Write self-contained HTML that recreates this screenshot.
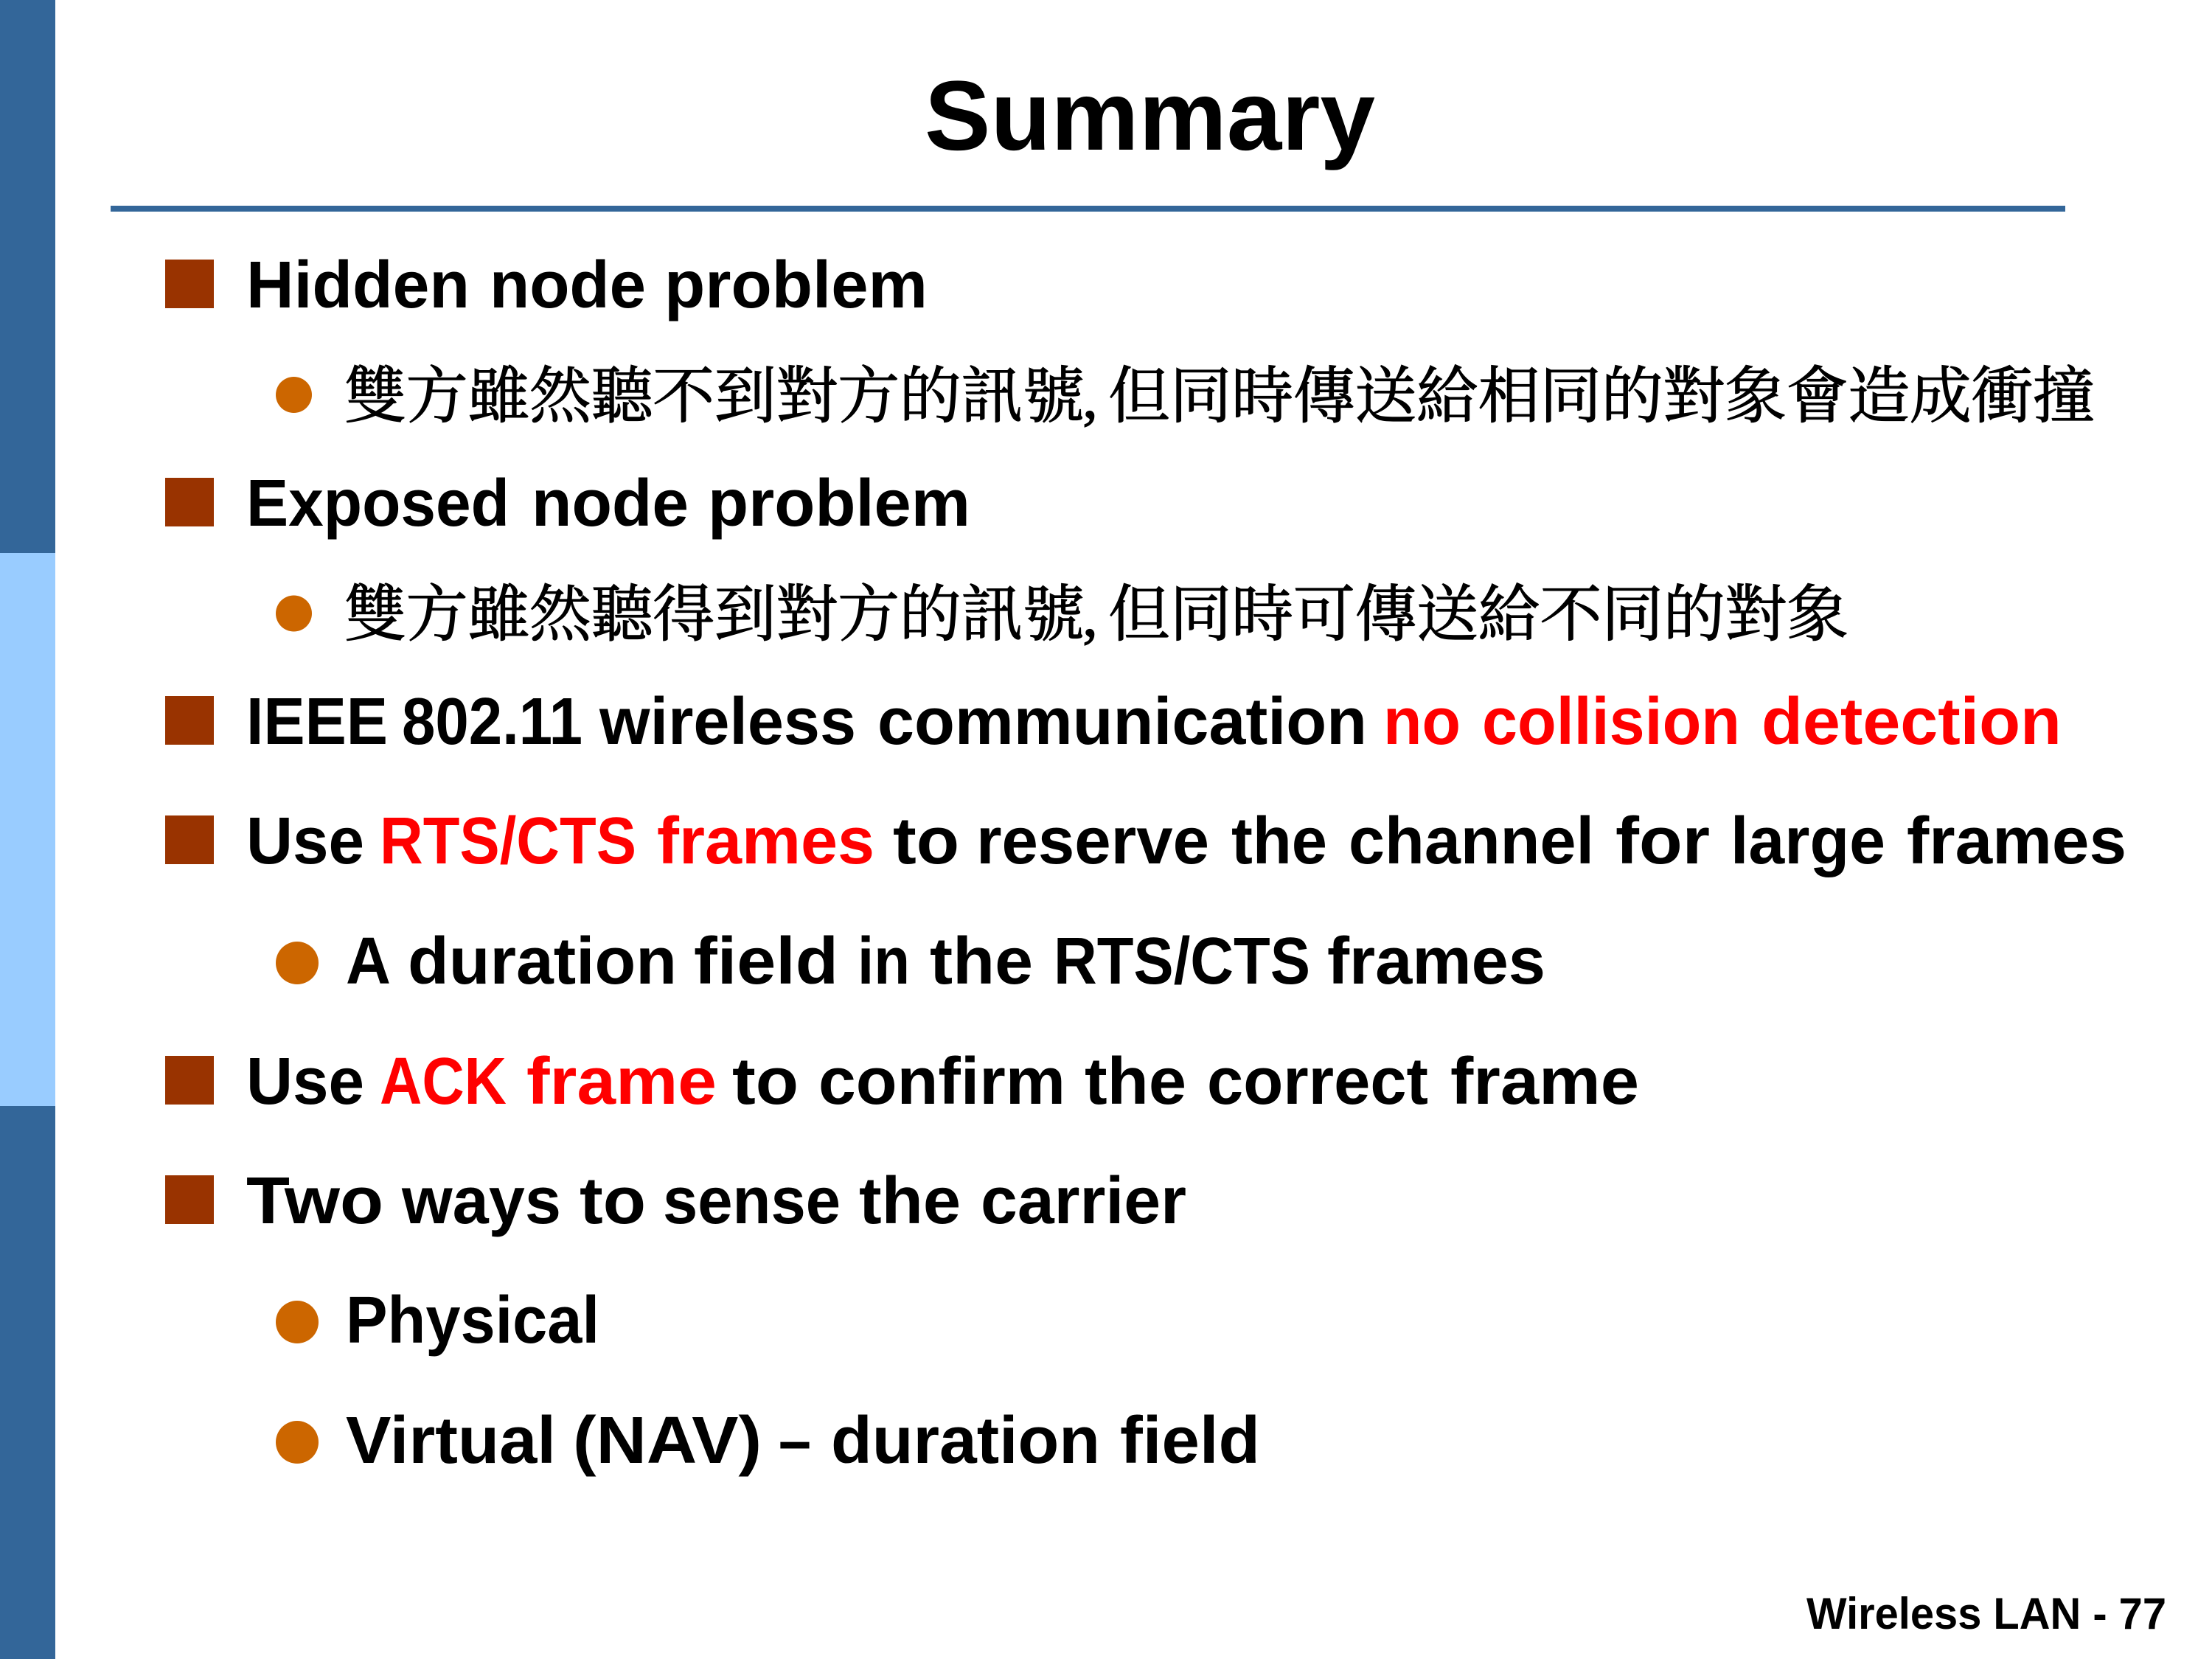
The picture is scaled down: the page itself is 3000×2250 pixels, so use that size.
<!DOCTYPE html>
<html>
<head>
<meta charset="utf-8">
<title>Summary</title>
<style>
html,body{margin:0;padding:0;background:#fff;width:3000px;height:2250px;overflow:hidden}
svg{display:block}
.t{font-family:"Liberation Sans",sans-serif;font-weight:700;font-size:90px;fill:#000}
.r{fill:#f00}
.c{font-family:"Liberation Serif","Noto Serif CJK SC","Noto Sans CJK TC",serif;font-size:84px;font-weight:400;fill:#000;stroke:#000;stroke-width:1.2px}
</style>
</head>
<body>
<svg xmlns="http://www.w3.org/2000/svg" width="3000" height="2250" viewBox="0 0 3000 2250">
<rect width="3000" height="2250" fill="#fff"/>
<rect x="0" y="0" width="75" height="750" fill="#336699"/>
<rect x="0" y="750" width="75" height="750" fill="#99CCFF"/>
<rect x="0" y="1500" width="75" height="750" fill="#336699"/>
<rect x="150" y="279" width="2651" height="8" fill="#336699"/>

<text class="t" x="1254" y="203" style="font-size:134px" textLength="611" lengthAdjust="spacingAndGlyphs">Summary</text>

<g fill="#993300">
<rect x="224" y="352" width="66" height="66"/>
<rect x="224" y="648" width="66" height="66"/>
<rect x="224" y="944" width="66" height="66"/>
<rect x="224" y="1106" width="66" height="66"/>
<rect x="224" y="1432" width="66" height="66"/>
<rect x="224" y="1594" width="66" height="66"/>
</g>
<g fill="#CC6600">
<ellipse cx="398.500" cy="535.500" rx="24.500" ry="24.500"/>
<ellipse cx="398.500" cy="832" rx="24.500" ry="24.500"/>
<circle cx="403" cy="1306" r="29"/>
<circle cx="403" cy="1793" r="29"/>
<circle cx="403" cy="1956" r="29"/>
</g>

<g>
<text class="t" x="334" y="417" textLength="303" lengthAdjust="spacingAndGlyphs">Hidden</text>
<text class="t" x="664" y="417" textLength="212" lengthAdjust="spacingAndGlyphs">node</text>
<text class="t" x="901" y="417" textLength="357" lengthAdjust="spacingAndGlyphs">problem</text>

<text class="c" x="467" y="566" textLength="1004" lengthAdjust="spacing">雙方雖然聽不到對方的訊號</text>
<text class="c" x="1468" y="566">,</text>
<text class="c" x="1503" y="566" textLength="1338" lengthAdjust="spacing">但同時傳送給相同的對象會造成衝撞</text>

<text class="t" x="334" y="713" textLength="357" lengthAdjust="spacingAndGlyphs">Exposed</text>
<text class="t" x="721" y="713" textLength="213" lengthAdjust="spacingAndGlyphs">node</text>
<text class="t" x="960" y="713" textLength="356" lengthAdjust="spacingAndGlyphs">problem</text>

<text class="c" x="467" y="862" textLength="1004" lengthAdjust="spacing">雙方雖然聽得到對方的訊號</text>
<text class="c" x="1468" y="862">,</text>
<text class="c" x="1503" y="862" textLength="1004" lengthAdjust="spacing">但同時可傳送給不同的對象</text>

<text class="t" x="334" y="1009" textLength="192" lengthAdjust="spacingAndGlyphs">IEEE</text>
<text class="t" x="545" y="1009" textLength="245" lengthAdjust="spacingAndGlyphs">802.11</text>
<text class="t" x="813" y="1009" textLength="348" lengthAdjust="spacingAndGlyphs">wireless</text>
<text class="t" x="1190" y="1009" textLength="664" lengthAdjust="spacingAndGlyphs">communication</text>
<text class="t r" x="1876" y="1009" textLength="105" lengthAdjust="spacingAndGlyphs">no</text>
<text class="t r" x="2010" y="1009" textLength="350" lengthAdjust="spacingAndGlyphs">collision</text>
<text class="t r" x="2389" y="1009" textLength="407" lengthAdjust="spacingAndGlyphs">detection</text>

<text class="t" x="334" y="1171" textLength="160" lengthAdjust="spacingAndGlyphs">Use</text>
<text class="t r" x="515" y="1171" textLength="348" lengthAdjust="spacingAndGlyphs">RTS/CTS</text>
<text class="t r" x="891" y="1171" textLength="295" lengthAdjust="spacingAndGlyphs">frames</text>
<text class="t" x="1211" y="1171" textLength="90" lengthAdjust="spacingAndGlyphs">to</text>
<text class="t" x="1324" y="1171" textLength="316" lengthAdjust="spacingAndGlyphs">reserve</text>
<text class="t" x="1670" y="1171" textLength="130" lengthAdjust="spacingAndGlyphs">the</text>
<text class="t" x="1829" y="1171" textLength="333" lengthAdjust="spacingAndGlyphs">channel</text>
<text class="t" x="2191" y="1171" textLength="128" lengthAdjust="spacingAndGlyphs">for</text>
<text class="t" x="2347" y="1171" textLength="210" lengthAdjust="spacingAndGlyphs">large</text>
<text class="t" x="2586" y="1171" textLength="298" lengthAdjust="spacingAndGlyphs">frames</text>

<text class="t" x="469" y="1334" textLength="61" lengthAdjust="spacingAndGlyphs">A</text>
<text class="t" x="553" y="1334" textLength="365" lengthAdjust="spacingAndGlyphs">duration</text>
<text class="t" x="941" y="1334" textLength="196" lengthAdjust="spacingAndGlyphs">field</text>
<text class="t" x="1163" y="1334" textLength="71" lengthAdjust="spacingAndGlyphs">in</text>
<text class="t" x="1261" y="1334" textLength="140" lengthAdjust="spacingAndGlyphs">the</text>
<text class="t" x="1429" y="1334" textLength="348" lengthAdjust="spacingAndGlyphs">RTS/CTS</text>
<text class="t" x="1800" y="1334" textLength="296" lengthAdjust="spacingAndGlyphs">frames</text>

<text class="t" x="334" y="1497" textLength="160" lengthAdjust="spacingAndGlyphs">Use</text>
<text class="t r" x="515" y="1497" textLength="172" lengthAdjust="spacingAndGlyphs">ACK</text>
<text class="t r" x="714" y="1497" textLength="258" lengthAdjust="spacingAndGlyphs">frame</text>
<text class="t" x="993" y="1497" textLength="90" lengthAdjust="spacingAndGlyphs">to</text>
<text class="t" x="1110" y="1497" textLength="335" lengthAdjust="spacingAndGlyphs">confirm</text>
<text class="t" x="1471" y="1497" textLength="138" lengthAdjust="spacingAndGlyphs">the</text>
<text class="t" x="1637" y="1497" textLength="300" lengthAdjust="spacingAndGlyphs">correct</text>
<text class="t" x="1967" y="1497" textLength="256" lengthAdjust="spacingAndGlyphs">frame</text>

<text class="t" x="334" y="1659" textLength="186" lengthAdjust="spacingAndGlyphs">Two</text>
<text class="t" x="545" y="1659" textLength="216" lengthAdjust="spacingAndGlyphs">ways</text>
<text class="t" x="786" y="1659" textLength="90" lengthAdjust="spacingAndGlyphs">to</text>
<text class="t" x="899" y="1659" textLength="241" lengthAdjust="spacingAndGlyphs">sense</text>
<text class="t" x="1165" y="1659" textLength="138" lengthAdjust="spacingAndGlyphs">the</text>
<text class="t" x="1330" y="1659" textLength="279" lengthAdjust="spacingAndGlyphs">carrier</text>

<text class="t" x="469" y="1821" textLength="344" lengthAdjust="spacingAndGlyphs">Physical</text>

<text class="t" x="469" y="1984" textLength="285" lengthAdjust="spacingAndGlyphs">Virtual</text>
<text class="t" x="777" y="1984" textLength="256" lengthAdjust="spacingAndGlyphs">(NAV)</text>
<text class="t" x="1056" y="1984" textLength="44" lengthAdjust="spacingAndGlyphs">–</text>
<text class="t" x="1127" y="1984" textLength="365" lengthAdjust="spacingAndGlyphs">duration</text>
<text class="t" x="1519" y="1984" textLength="190" lengthAdjust="spacingAndGlyphs">field</text>
</g>

<text x="2450" y="2209" font-family="'Liberation Sans',sans-serif" font-weight="700" font-size="60" fill="#000" textLength="488" lengthAdjust="spacingAndGlyphs">Wireless LAN - 77</text>
</svg>
</body>
</html>
